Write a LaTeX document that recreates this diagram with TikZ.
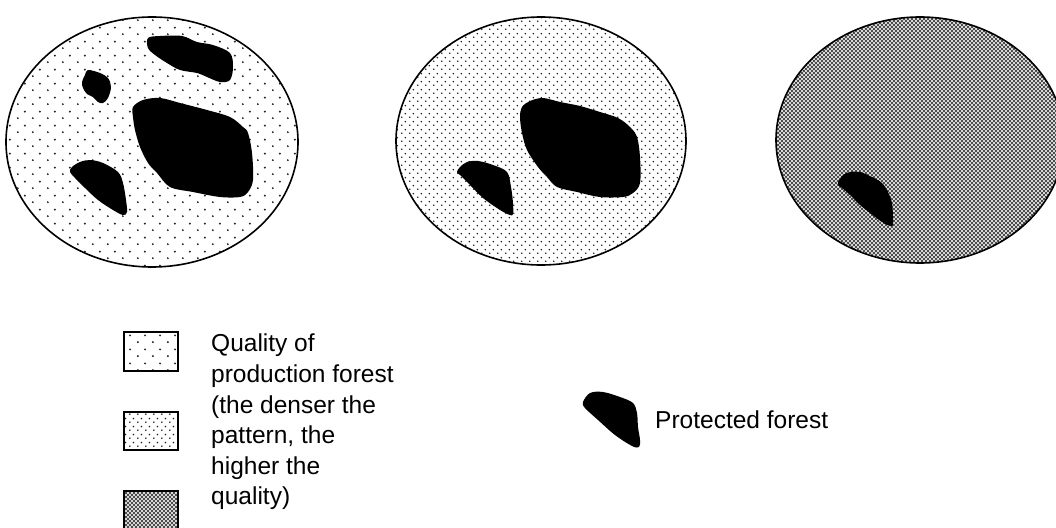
\documentclass[tikz,border=0pt]{standalone}
\usepackage{fontspec}
\setmainfont{Liberation Sans}
\usepackage{tikz}
\usetikzlibrary{patterns}

% dot and hatch fills for the forest quality
\pgfdeclarepatternformonly{sparsedots}{\pgfqpoint{0pt}{0pt}}{\pgfqpoint{15pt}{14pt}}{\pgfqpoint{15pt}{14pt}}{%
  \pgfpathcircle{\pgfqpoint{3pt}{3pt}}{1.1pt}%
  \pgfpathcircle{\pgfqpoint{10.5pt}{10pt}}{1.1pt}%
  \pgfusepath{fill}}
\pgfdeclarepatternformonly{densedots}{\pgfqpoint{0pt}{0pt}}{\pgfqpoint{8pt}{8pt}}{\pgfqpoint{8pt}{8pt}}{%
  \pgfpathcircle{\pgfqpoint{2pt}{2pt}}{1pt}%
  \pgfpathcircle{\pgfqpoint{6pt}{6pt}}{1pt}%
  \pgfusepath{fill}}
\pgfdeclarepatternformonly{densehatch}{\pgfqpoint{-1pt}{-1pt}}{\pgfqpoint{5pt}{5pt}}{\pgfqpoint{4pt}{4pt}}{%
  \pgfsetlinewidth{0.8pt}%
  \pgfpathmoveto{\pgfqpoint{0pt}{0pt}}\pgfpathlineto{\pgfqpoint{4pt}{4pt}}%
  \pgfpathmoveto{\pgfqpoint{0pt}{4pt}}\pgfpathlineto{\pgfqpoint{4pt}{0pt}}%
  \pgfusepath{stroke}}

\begin{document}
\begin{tikzpicture}[
      x=1pt, y=-1pt,
      forest/.style={draw, line width=1.6pt, pattern color=black!85},
      reserve/.style={fill=black, smooth cycle, tension=0.55},
      swatch/.style={draw, line width=1.4pt, pattern color=black!85},
      legendtext/.style={inner sep=0pt, font=\fontsize{24.5}{30.6}\selectfont}
    ]
  \useasboundingbox (0,0) rectangle (1056,527);

  % low quality
  \path[forest, pattern=sparsedots] (152,142) ellipse [x radius=146, y radius=125];
  \fill plot[reserve] coordinates {(148,38) (160,36) (182,36) (197,42) (213,45) (230,53) (233,67) (230,80) (220,82) (207,77) (197,73) (180,70) (167,63) (155,55) (148,48)};
  \fill plot[reserve] coordinates {(88,70) (100,73) (108,78) (111,87) (108,98) (103,103) (98,102) (93,97) (87,94) (83,88) (82,82) (85,75)};
  \fill plot[reserve] coordinates {(133,107) (143,100) (160,98) (180,103) (207,110) (230,117) (243,127) (248,133) (252,153) (253,180) (248,192) (240,197) (220,197) (193,192) (170,187) (157,173) (148,163) (140,147) (135,130) (133,117)};
  \fill plot[reserve] coordinates {(72,167) (80,162) (90,160) (103,163) (118,172) (123,183) (126,200) (127,212) (123,215) (113,210) (98,200) (85,188) (75,178) (70,172)};

  % medium quality
  \path[forest, pattern=densedots] (541,141) ellipse [x radius=145, y radius=124];
  \fill plot[reserve] coordinates {(522,107) (530,101) (543,98) (560,102) (580,106) (600,112) (618,118) (630,127) (637,137) (640,157) (640,183) (633,193) (623,197) (600,197) (577,192) (557,187) (547,177) (538,167) (527,150) (522,133) (520,117)};
  \fill plot[reserve] coordinates {(460,167) (467,162) (478,161) (493,165) (507,172) (511,187) (513,203) (513,214) (510,215) (500,210) (483,198) (470,185) (460,175) (457,172)};

  % high quality
  \path[forest, pattern=densehatch, pattern color=black!70] (920,140) ellipse [x radius=144, y radius=123];
  \fill plot[reserve] coordinates {(838,182) (843,175) (850,172) (860,172) (872,177) (882,183) (888,192) (892,203) (893,217) (893,225) (890,226) (882,222) (870,213) (860,205) (850,195) (842,188) (838,185)};

  % legend
  \path[swatch, pattern=sparsedots] (124,332) rectangle (178,371);
  \path[swatch, pattern=densedots] (124,412) rectangle (178,450);
  \path[swatch, pattern=densehatch, pattern color=black!70] (124,491) rectangle (178,530);
  \node[legendtext, anchor=north west, align=left] (quality) at (211,334)
    {Quality of\\production forest\\(the denser the\\pattern, the\\higher the\\quality)};

  \fill plot[reserve] coordinates {(583,402) (590,393) (603,392) (620,397) (633,403) (637,413) (638,427) (640,440) (639,447) (632,446) (615,435) (598,420) (585,408)};
  \node[legendtext, anchor=base west] (protected) at (655,428) {Protected forest};
\end{tikzpicture}
\end{document}
